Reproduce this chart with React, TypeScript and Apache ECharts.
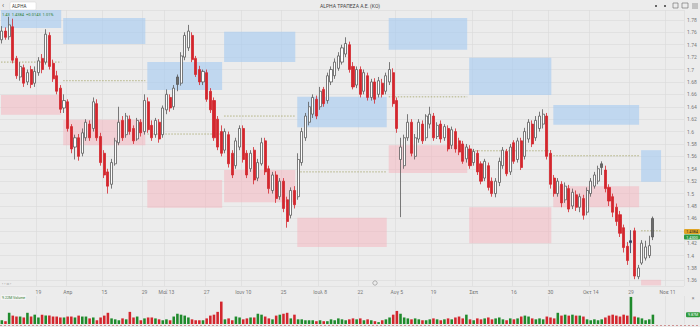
import React, { useEffect, useRef } from "react";
import * as echarts from "echarts";

const N_SLOTS = 187;

// [open, close, low, high]
const candles: number[][] = [
  [1.748,1.762,1.742,1.770],[1.762,1.752,1.748,1.768],[1.753,1.772,1.748,1.785],[1.769,1.715,1.710,1.782],[1.718,1.690,1.685,1.722],
  [1.688,1.705,1.682,1.712],[1.703,1.678,1.672,1.708],[1.680,1.695,1.675,1.700],[1.700,1.676,1.670,1.706],[1.678,1.697,1.672,1.705],
  [1.695,1.714,1.690,1.720],[1.718,1.700,1.694,1.725],[1.712,1.757,1.708,1.765],[1.755,1.705,1.700,1.760],[1.710,1.685,1.680,1.716],
  [1.690,1.665,1.660,1.698],[1.670,1.636,1.630,1.675],[1.638,1.650,1.630,1.660],[1.648,1.605,1.600,1.652],[1.608,1.572,1.565,1.612],
  [1.575,1.590,1.555,1.595],[1.590,1.560,1.553,1.596],[1.565,1.598,1.560,1.605],[1.590,1.615,1.585,1.620],[1.612,1.590,1.585,1.618],
  [1.605,1.648,1.600,1.655],[1.645,1.590,1.585,1.652],[1.592,1.550,1.545,1.598],[1.565,1.530,1.525,1.570],[1.535,1.512,1.500,1.540],
  [1.515,1.550,1.508,1.556],[1.548,1.585,1.545,1.590],[1.582,1.615,1.578,1.640],[1.618,1.590,1.585,1.625],[1.595,1.625,1.590,1.630],
  [1.620,1.600,1.595,1.626],[1.605,1.585,1.580,1.610],[1.588,1.618,1.585,1.622],[1.615,1.598,1.592,1.620],[1.600,1.650,1.595,1.660],
  [1.648,1.603,1.598,1.655],[1.610,1.590,1.585,1.618],[1.595,1.618,1.590,1.622],[1.615,1.588,1.582,1.620],[1.595,1.638,1.590,1.642],
  [1.635,1.660,1.628,1.668],[1.655,1.638,1.632,1.660],[1.640,1.670,1.635,1.675],[1.688,1.676,1.665,1.692],[1.678,1.722,1.674,1.728],
  [1.720,1.755,1.715,1.760],[1.735,1.762,1.730,1.772],[1.755,1.716,1.712,1.760],[1.718,1.692,1.688,1.722],[1.700,1.680,1.675,1.706],
  [1.680,1.697,1.675,1.700],[1.695,1.652,1.648,1.700],[1.665,1.635,1.630,1.670],[1.650,1.590,1.585,1.655],[1.620,1.575,1.570,1.625],
  [1.600,1.565,1.560,1.610],[1.570,1.600,1.565,1.605],[1.595,1.548,1.542,1.600],[1.565,1.530,1.525,1.570],[1.545,1.585,1.540,1.590],
  [1.575,1.605,1.570,1.610],[1.605,1.555,1.550,1.610],[1.565,1.530,1.525,1.570],[1.540,1.565,1.535,1.570],[1.570,1.522,1.515,1.575],
  [1.525,1.550,1.520,1.556],[1.548,1.582,1.545,1.590],[1.585,1.535,1.530,1.590],[1.540,1.508,1.500,1.545],[1.505,1.530,1.500,1.535],
  [1.530,1.492,1.485,1.536],[1.495,1.520,1.490,1.525],[1.520,1.476,1.470,1.525],[1.490,1.455,1.445,1.495],[1.465,1.505,1.460,1.510],
  [1.505,1.482,1.476,1.512],[1.495,1.555,1.490,1.565],[1.550,1.600,1.545,1.606],[1.590,1.625,1.585,1.630],[1.615,1.640,1.610,1.648],
  [1.628,1.655,1.622,1.660],[1.652,1.625,1.620,1.658],[1.640,1.665,1.635,1.672],[1.668,1.645,1.640,1.672],[1.650,1.690,1.645,1.695],
  [1.680,1.700,1.675,1.705],[1.690,1.712,1.685,1.718],[1.702,1.722,1.698,1.728],[1.712,1.735,1.708,1.740],[1.725,1.742,1.720,1.752],
  [1.740,1.700,1.695,1.745],[1.705,1.672,1.668,1.712],[1.675,1.700,1.670,1.705],[1.700,1.660,1.655,1.705],[1.665,1.695,1.660,1.700],
  [1.690,1.655,1.650,1.695],[1.655,1.680,1.650,1.685],[1.680,1.652,1.645,1.686],[1.660,1.682,1.655,1.688],[1.678,1.660,1.655,1.685],
  [1.665,1.690,1.660,1.695],[1.680,1.700,1.675,1.712],[1.695,1.645,1.640,1.702],[1.650,1.605,1.598,1.655],[1.555,1.575,1.462,1.590],
  [1.545,1.590,1.540,1.595],[1.590,1.615,1.585,1.628],[1.615,1.565,1.560,1.620],[1.560,1.590,1.555,1.596],[1.588,1.615,1.582,1.620],
  [1.612,1.585,1.580,1.618],[1.590,1.625,1.585,1.628],[1.612,1.628,1.605,1.640],[1.625,1.590,1.585,1.630],[1.592,1.610,1.588,1.615],
  [1.612,1.588,1.582,1.618],[1.590,1.608,1.585,1.612],[1.605,1.572,1.568,1.610],[1.578,1.603,1.572,1.608],[1.600,1.572,1.566,1.605],
  [1.585,1.567,1.562,1.590],[1.580,1.552,1.548,1.585],[1.556,1.575,1.550,1.580],[1.572,1.545,1.540,1.578],[1.550,1.568,1.545,1.572],
  [1.565,1.535,1.530,1.570],[1.548,1.520,1.515,1.552],[1.525,1.552,1.520,1.556],[1.545,1.510,1.505,1.550],[1.520,1.500,1.495,1.526],
  [1.500,1.520,1.494,1.525],[1.518,1.552,1.512,1.558],[1.545,1.570,1.540,1.575],[1.568,1.532,1.528,1.572],[1.535,1.575,1.530,1.580],
  [1.582,1.552,1.548,1.586],[1.555,1.585,1.550,1.590],[1.585,1.542,1.538,1.590],[1.560,1.600,1.555,1.606],[1.588,1.615,1.582,1.620],
  [1.612,1.580,1.575,1.618],[1.590,1.618,1.585,1.625],[1.605,1.625,1.600,1.632],[1.612,1.628,1.605,1.636],[1.625,1.560,1.555,1.630],
  [1.565,1.515,1.508,1.570],[1.525,1.500,1.495,1.530],[1.500,1.520,1.495,1.525],[1.515,1.485,1.478,1.520],[1.490,1.512,1.485,1.518],
  [1.508,1.475,1.470,1.514],[1.480,1.502,1.475,1.508],[1.498,1.478,1.472,1.505],[1.478,1.495,1.470,1.500],[1.492,1.465,1.458,1.498],
  [1.470,1.505,1.465,1.510],[1.500,1.520,1.495,1.525],[1.512,1.530,1.508,1.535],[1.520,1.540,1.515,1.545],[1.548,1.542,1.530,1.552],
  [1.538,1.508,1.502,1.545],[1.510,1.488,1.480,1.515],[1.495,1.470,1.462,1.500],[1.478,1.455,1.448,1.484],[1.466,1.436,1.430,1.472],
  [1.445,1.413,1.405,1.450],[1.415,1.392,1.385,1.422],[1.421,1.424,1.404,1.441],[1.440,1.367,1.362,1.445],[1.366,1.380,1.362,1.385],
  [1.388,1.420,1.385,1.425],[1.396,1.414,1.392,1.424],[1.400,1.416,1.396,1.432],[1.460,1.430,1.425,1.463],
];

const grayCandles = [48, 164, 178];
const darkCandles = [172];

// volume in millions
const volumes: number[] = [
  4,3,12,9,8,8,7,12,8,10, 7,10,9,9,8,8,7,7,8,8, 7,9,8,8,6,7,4,7,9,12, 6,5,4,6,5,13,7,8,4,6,
  7,7,6,5,4,5,4,8,11,10, 9,7,5,4,4,4,6,9,10,13, 24,5,6,4,8,7,5,6,7,7, 11,10,8,6,5,9,10,11,12,6,
  10,5,5,4,4,4,3,4,3,3, 5,4,6,5,4,5,6,5,6,4, 5,4,3,2,4,5,7,10,14,11, 7,6,5,6,5,4,4,5,6,5,
  4,5,6,5,7,8,6,10,5,4, 6,5,6,7,5,6,7,5,4,6, 5,6,8,9,8,6,5,6,5,8, 7,6,12,9,10,9,10,9,9,8,
  5,4,5,4,5,7,9,10,9,8, 10,9,29,8,7,6,4,5,10,
];

const tickLabels: [number, string][] = [
  [10, "19"], [18, "Απρ"], [28, "15"], [39, "29"], [45, "Μαΐ 13"], [56, "27"],
  [66, "Ιουν 10"], [77, "25"], [87, "Ιουλ 8"], [98, "22"], [108, "Αυγ 5"], [118, "19"],
  [129, "Σεπ"], [140, "16"], [150, "30"], [161, "Οκτ 14"], [172, "29"], [182, "Νοε 11"],
];

// monthly periods (slot index where each month starts, last = end)
const monthStarts = [0, 17, 40, 61, 81, 106, 128, 151, 175, 181];
// [top, bottom] price of the upper (blue) zone per month
const supplyZones: number[][] = [
  [1.796, 1.767], [1.783, 1.741], [1.712, 1.667], [1.761, 1.712], [1.656, 1.607],
  [1.783, 1.732], [1.719, 1.659], [1.643, 1.611], [1.570, 1.519],
];
// [top, bottom] price of the lower (pink) zone per month
const demandZones: number[][] = [
  [1.659, 1.627], [1.619, 1.578], [1.522, 1.477], [1.538, 1.486], [1.461, 1.414],
  [1.578, 1.533], [1.478, 1.420], [1.512, 1.478], [1.361, 1.352],
];
const pivots = [1.712, 1.682, 1.596, 1.625, 1.535, 1.656, 1.569, 1.561, 1.440];

const lastPrice = 1.43;
const avgPrice = 1.4384;
const changeAbs = 0.0143;
const changePct = 1.01;
const lastVolume = "9.87M";

const UP_BORDER = "#5a5a5a";
const DOWN = "#d3262d";
const GREEN = "#1f8a2c";

export default function App() {
  const ref = useRef<HTMLDivElement>(null);
  useEffect(() => {
    document.body.style.margin = "0";
    const chart = echarts.init(ref.current!, null, { renderer: "svg" });
    const cats = Array.from({ length: N_SLOTS }, (_, i) => String(i));
    const tickMap = new Map<number, string>(tickLabels);
    const showTick = (i: number) => tickMap.has(i);

    const candleData = candles.map((c, i) => {
      const item: any = { value: [c[0], c[1], c[2], c[3]] };
      if (grayCandles.includes(i)) item.itemStyle = { color: "#6b6b6b", color0: "#6b6b6b", borderColor: "#555", borderColor0: "#555" };
      if (darkCandles.includes(i)) item.itemStyle = { color: "#2d3a5c", color0: "#2d3a5c", borderColor: "#2d3a5c", borderColor0: "#2d3a5c" };
      return item;
    });
    const volData = volumes.map((v, i) => {
      const c = candles[i];
      const up = c[1] >= c[0] || grayCandles.includes(i);
      return { value: v, itemStyle: { color: up ? GREEN : DOWN } };
    });
    const zoneData: number[][] = [];
    const pivotData: number[][] = [];
    for (let k = 0; k < monthStarts.length - 1; k++) {
      const x0 = monthStarts[k], x1 = monthStarts[k + 1];
      zoneData.push([x0, x1, supplyZones[k][0], supplyZones[k][1], 0]);
      zoneData.push([x0, x1, demandZones[k][0], demandZones[k][1], 1]);
      pivotData.push([x0, x1, pivots[k]]);
    }

    const font = "Roboto, 'Noto Sans', 'DejaVu Sans', sans-serif";
    const gridLine = { show: true, lineStyle: { color: "#dadada", width: 0.6 } };
    // label hidden under the price tags (as in the reference)
    const coveredLabel = (v: number) => Math.abs(v - 1.44) < 0.001;

    const option: any = {
      animation: false,
      backgroundColor: "#ececec",
      textStyle: { fontFamily: font },
      grid: [
        { left: 0, right: 16, top: 10, bottom: 41, outerBoundsMode: "none" },
        { left: 0, right: 16, top: 296, bottom: 3, outerBoundsMode: "none" },
      ],
      xAxis: [
        {
          type: "category", gridIndex: 0, data: cats,
          axisLine: { show: false }, axisTick: { show: false },
          axisLabel: {
            interval: (i: number) => showTick(i),
            formatter: (_v: string, i: number) => tickMap.get(i) || "",
            fontSize: 5, color: "#777", margin: 3, fontFamily: font,
          },
          splitLine: { ...gridLine, interval: (i: number) => showTick(i) },
        },
        { type: "value", gridIndex: 0, min: 0, max: N_SLOTS, show: false },
        {
          type: "category", gridIndex: 1, data: cats,
          axisLine: { show: false }, axisTick: { show: false }, axisLabel: { show: false },
          splitLine: { ...gridLine, interval: (i: number) => showTick(i) },
        },
      ],
      yAxis: [
        {
          type: "value", gridIndex: 0, position: "right", min: 1.351, max: 1.796, splitNumber: 22,
          axisLine: { show: false }, axisTick: { show: false },
          axisLabel: {
            fontSize: 5, color: "#777", margin: 3, showMinLabel: false, showMaxLabel: false, fontFamily: font, align: "left",
            formatter: (v: number) => (coveredLabel(v) ? "" : String(+v.toFixed(2))),
          },
          splitLine: gridLine,
        },
        {
          type: "value", gridIndex: 1, position: "right", min: 0, max: 30,
          axisLine: { show: false }, axisTick: { show: false }, axisLabel: { show: false }, splitLine: { show: false },
        },
      ],
      series: [
        {
          type: "custom", xAxisIndex: 1, yAxisIndex: 0, z: 1, silent: true,
          data: zoneData,
          encode: { x: [0, 1], y: [2, 3] },
          renderItem: (_p: any, api: any) => {
            const a = api.coord([api.value(0), api.value(2)]);
            const b = api.coord([api.value(1), api.value(3)]);
            const blue = api.value(4) === 0;
            return {
              type: "rect",
              shape: { x: a[0] + 1, y: a[1], width: b[0] - a[0] - 2, height: b[1] - a[1] },
              style: { fill: blue ? "rgba(165,202,240,0.62)" : "rgba(246,178,188,0.5)" },
            };
          },
        },
        {
          type: "custom", xAxisIndex: 1, yAxisIndex: 0, z: 1, silent: true,
          data: pivotData,
          encode: { x: [0, 1], y: 2 },
          renderItem: (_p: any, api: any) => {
            const a = api.coord([api.value(0), api.value(2)]);
            const b = api.coord([api.value(1), api.value(2)]);
            return {
              type: "line",
              shape: { x1: a[0] + 1, y1: a[1], x2: b[0] - 1, y2: b[1] },
              style: { stroke: "#9a9a55", lineWidth: 0.7, lineDash: [1.5, 1.5] },
            };
          },
        },
        {
          type: "candlestick", xAxisIndex: 0, yAxisIndex: 0, z: 3,
          barWidth: "70%",
          data: candleData,
          itemStyle: { color: "#ffffff", color0: DOWN, borderColor: UP_BORDER, borderColor0: DOWN, borderWidth: 0.8 },
        },
        {
          type: "bar", xAxisIndex: 2, yAxisIndex: 1, barWidth: "70%",
          data: volData,
        },
      ],
    };
    chart.setOption(option);

    const yLast = chart.convertToPixel({ yAxisIndex: 0 }, lastPrice) as number;
    const yAvg = chart.convertToPixel({ yAxisIndex: 0 }, avgPrice) as number;
    const yVol = chart.convertToPixel({ xAxisIndex: 2, yAxisIndex: 1 } as any, [0, volumes[volumes.length - 1]]) as any;
    const yVolPx = Array.isArray(yVol) ? yVol[1] : 313;
    const yAvgTag = Math.min(yAvg, yLast - 5.5);

    const graphic: any[] = [
      // header
      { type: "text", left: 2, top: 2, style: { text: "‹", fontSize: 7, fill: "#555", fontFamily: font } },
      { type: "rect", shape: { x: 10, y: 2, width: 26, height: 8, r: 1 }, style: { fill: "#ffffff", stroke: "#d0d0d0", lineWidth: 0.5 } },
      { type: "text", x: 12, y: 6, style: { text: "ALPHA", fontSize: 4.5, fill: "#333", verticalAlign: "middle", fontFamily: font } },
      { type: "text", x: 350, y: 6, style: { text: "ALPHA ΤΡΑΠΕΖΑ Α.Ε. (ΚΟ)", fontSize: 5, fill: "#444", align: "center", verticalAlign: "middle", fontFamily: font } },
      { type: "rect", shape: { x: 655, y: 5, width: 2, height: 2 }, style: { fill: "#666" } },
      { type: "rect", shape: { x: 664, y: 5, width: 2, height: 2 }, style: { fill: "#666" } },
      { type: "rect", shape: { x: 673, y: 3, width: 5, height: 5 }, style: { fill: "none", stroke: "#666", lineWidth: 0.6 } },
      { type: "rect", shape: { x: 682, y: 3, width: 6, height: 5 }, style: { fill: "none", stroke: "#666", lineWidth: 0.6 } },
      { type: "line", shape: { x1: 692, y1: 4, x2: 698, y2: 4 }, style: { stroke: "#666", lineWidth: 0.6 } },
      { type: "line", shape: { x1: 692, y1: 6, x2: 698, y2: 6 }, style: { stroke: "#666", lineWidth: 0.6 } },
      { type: "line", shape: { x1: 692, y1: 8, x2: 698, y2: 8 }, style: { stroke: "#666", lineWidth: 0.6 } },
      // legend line
      { type: "text", x: 2, y: 14.5, z: 10, style: { text: `${lastPrice.toFixed(2)}  ${avgPrice.toFixed(4)}  +${changeAbs.toFixed(4)}  ${changePct.toFixed(2)}%`, fontSize: 4, fill: "#2e7d32", verticalAlign: "middle", fontFamily: font } },
      // bottom-left controls
      { type: "text", x: 2, y: 283, style: { text: "‹ › ▫ ›", fontSize: 4, fill: "#888", verticalAlign: "middle", fontFamily: font } },
      { type: "circle", shape: { cx: 375, cy: 283, r: 2.2 }, style: { fill: "none", stroke: "#888", lineWidth: 0.6 } },
      // volume panel label
      { type: "rect", shape: { x: 1, y: 295, width: 25, height: 5 }, style: { fill: "#f4f4f4" } },
      { type: "text", x: 2, y: 297.5, style: { text: "9.22M Volume", fontSize: 3.6, fill: "#2e7d32", verticalAlign: "middle", fontFamily: font } },
      { type: "text", x: 693, y: 298, style: { text: "×", fontSize: 5, fill: "#777", align: "center", verticalAlign: "middle", fontFamily: font } },
      { type: "line", shape: { x1: 0, y1: 325.5, x2: 700, y2: 325.5 }, style: { stroke: "#b55", lineWidth: 0.6, lineDash: [2, 2] } },
      // price tags
      { type: "rect", z: 20, shape: { x: 684, y: yAvgTag - 2.5, width: 16, height: 5, r: 1 }, style: { fill: "#e0a526" } },
      { type: "text", z: 21, x: 692, y: yAvgTag, style: { text: avgPrice.toFixed(4), fontSize: 3.8, fill: "#222", align: "center", verticalAlign: "middle", fontFamily: font } },
      { type: "rect", z: 20, shape: { x: 684, y: yLast - 2.5, width: 16, height: 5, r: 1 }, style: { fill: "#2f9a3e" } },
      { type: "text", z: 21, x: 692, y: yLast, style: { text: lastPrice.toFixed(4), fontSize: 3.8, fill: "#fff", align: "center", verticalAlign: "middle", fontFamily: font } },
      { type: "rect", z: 20, shape: { x: 686, y: yVolPx - 2.5, width: 14, height: 5, r: 1 }, style: { fill: "#2f9a3e" } },
      { type: "text", z: 21, x: 693, y: yVolPx, style: { text: lastVolume, fontSize: 3.6, fill: "#fff", align: "center", verticalAlign: "middle", fontFamily: font } },
    ];
    chart.setOption({ graphic });
    return () => chart.dispose();
  }, []);
  return <div ref={ref} style={{ width: 700, height: 327 }} />;
}
